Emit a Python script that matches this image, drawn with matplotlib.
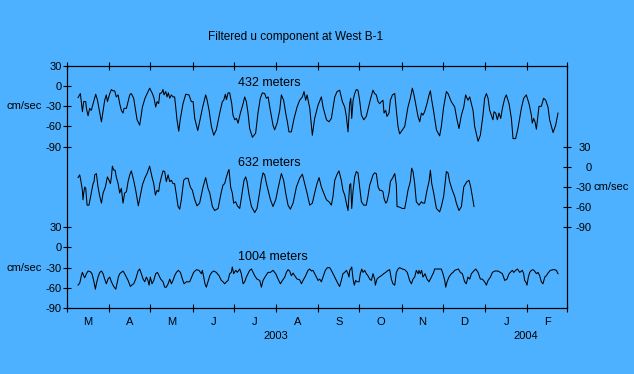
import numpy as np
import matplotlib
matplotlib.use('Agg')
import matplotlib.pyplot as plt
import matplotlib.dates as mdates
import matplotlib.transforms as mtransforms

plt.rcParams['font.family'] = ['Liberation Sans', 'DejaVu Sans']

BG = '#4DB1FF'
start = np.datetime64('2003-03-01')

# ---------------------------------------------------------------------------
# data: days since 1 Mar 2003, filtered u velocity (cm/sec)
days_432 = [8.1, 9.8, 11.3, 12.2, 13.7, 14.2, 15.4, 16.6, 17.8, 21.0,
            22.2, 25.2, 27.6, 28.8, 29.6, 31.3, 32.5, 33.7, 34.9, 36.1,
            37.4, 38.6, 39.8, 41.0, 41.8, 43.5, 45.9, 47.1, 48.8, 51.3,
            53.2, 55.2, 57.1, 60.5, 62.5, 63.7, 64.9, 65.9, 67.1, 67.9,
            69.3, 70.3, 71.0, 72.3, 73.2, 74.2, 75.2, 76.4, 77.6, 78.8,
            79.6, 80.5, 81.8, 83.0, 84.9, 86.9, 89.3, 91.0, 92.3, 93.5,
            95.7, 97.1, 99.1, 101.5, 102.5, 104.0, 105.7, 107.4, 109.3, 111.8,
            113.7, 114.7, 115.9, 116.7, 117.9, 119.1, 120.6, 121.5, 122.8, 124.0,
            125.2, 126.9, 128.9, 130.1, 131.3, 132.5, 133.7, 135.7, 138.1, 139.8,
            141.5, 143.0, 144.7, 145.9, 147.2, 148.4, 150.8, 152.0, 153.8, 155.7,
            156.9, 158.6, 160.1, 161.3, 162.5, 164.2, 166.2, 168.4, 170.3, 172.3,
            173.5, 174.7, 175.7, 176.7, 177.7, 178.9, 179.6, 181.3, 183.8, 186.2,
            187.4, 188.6, 189.9, 191.8, 193.5, 196.0, 197.7, 199.6,
            201.6, 203.3, 204.5, 205.7, 206.9, 207.7, 208.4, 209.4, 210.6, 211.8,
            213.0, 214.2, 215.5, 217.2, 219.1, 221.1, 222.3, 224.0, 225.2, 226.4,
            227.7, 228.9, 230.1, 231.3, 232.1, 233.3, 234.2, 235.7, 236.7, 238.2,
            239.9, 241.1, 242.3, 243.5, 245.5, 247.2, 249.6, 251.3, 252.8, 253.8,
            255.2, 256.9, 258.2, 259.4, 260.6, 261.8, 263.5, 265.0, 266.0, 267.0,
            268.4, 270.4, 272.8, 274.0, 275.7, 277.7, 278.9, 281.3, 283.8, 285.5,
            286.9, 288.7, 290.4, 291.8, 293.5, 294.8, 296.0, 297.2, 298.4, 300.9,
            302.6, 304.5, 305.7, 307.0, 308.2, 309.4, 311.8, 312.6, 313.8, 315.0,
            316.2, 317.5, 318.7, 320.4, 321.6, 323.6, 325.3, 326.5, 328.4, 330.1,
            332.6, 334.3, 336.2, 338.2, 339.9, 340.6, 341.6, 342.6, 343.6, 344.8,
            345.5, 347.2, 348.9, 350.4, 352.1, 353.3, 355.8, 357.7, 359.4]
u_432 = [-17, -11, -38, -23, -23, -33, -44, -33, -36, -12,
         -20, -53, -21, -13, -23, -11, -5, -7, -7, -16,
         -13, -26, -36, -40, -33, -33, -13, -11, -18, -50,
         -58, -31, -18, -3, -11, -18, -31, -23, -26, -11,
         -10, -5, -13, -8, -16, -10, -18, -13, -16, -16,
         -31, -50, -67, -48, -26, -12, -13, -23, -23, -48,
         -66, -53, -33, -13, -20, -36, -60, -73, -65, -40,
         -23, -21, -12, -20, -10, -10, -26, -43, -50, -48,
         -55, -40, -26, -16, -23, -40, -63, -76, -70, -40,
         -18, -10, -11, -18, -16, -31, -58, -65, -55, -36,
         -13, -21, -40, -53, -68, -68, -48, -31, -21, -16,
         -8, -21, -13, -23, -33, -58, -73, -48, -28, -16,
         -31, -40, -50, -53, -48, -16, -8, -6,
         -23, -31, -45, -68, -26, -18, -48, -21, -11, -5,
         -6, -21, -43, -50, -45, -28, -18, -6, -11, -13,
         -23, -26, -23, -21, -40, -36, -45, -40, -21, -13,
         -11, -36, -60, -71, -65, -60, -31, -18, -3, -11,
         -26, -45, -53, -40, -43, -38, -26, -13, -7, -21,
         -38, -65, -74, -60, -31, -8, -11, -23, -31, -50,
         -63, -43, -31, -13, -21, -16, -26, -36, -60, -82,
         -73, -43, -18, -11, -18, -36, -50, -38, -40, -50,
         -40, -48, -33, -18, -13, -26, -48, -78, -78, -63,
         -33, -18, -13, -26, -43, -55, -48, -53, -64, -43,
         -30, -30, -18, -21, -31, -50, -69, -58, -40]

days_632 = [8.1, 9.3, 10.0, 11.3, 11.7, 12.2, 13.0, 13.7, 14.7, 16.1,
            17.8, 19.1, 19.8, 20.3, 21.5, 22.7, 24.0, 25.2, 26.4, 28.1,
            29.6, 30.8, 31.8, 32.5, 33.2, 34.2, 35.2, 36.1, 37.4, 38.6,
            39.8, 41.0, 42.2, 43.5, 44.7, 45.9, 47.1, 48.8, 50.3, 52.2,
            54.0, 55.2, 56.9, 58.6, 60.5, 62.2, 63.5, 64.7, 65.9, 67.1,
            67.9, 69.1, 70.3, 71.5, 72.7, 74.0, 75.2, 76.4, 77.6, 78.8,
            80.1, 81.3, 82.5, 83.7, 85.4, 86.9, 88.6, 90.3, 91.8, 93.5,
            95.2, 97.1, 99.6, 101.5, 103.2, 104.5, 106.4, 108.1, 110.6, 113.0,
            114.2, 115.4, 116.7, 117.9, 118.6, 119.8, 121.0, 122.0, 123.5, 124.7,
            126.4, 127.6, 129.6, 130.8, 131.8, 133.3, 135.0, 137.4, 139.1, 141.1,
            142.3, 143.5, 144.7, 146.0, 147.2, 148.9, 150.8, 152.8, 154.5, 156.9,
            158.6, 160.1, 161.8, 163.5, 165.5, 167.9, 170.3, 172.3, 174.0, 175.7,
            177.7, 179.6, 181.3, 183.0, 184.5, 186.2, 187.9, 189.9, 191.8, 193.5,
            194.7, 196.0, 197.7, 199.1,
            200.8, 202.0, 203.3, 204.5, 205.7, 206.9, 207.7, 208.4, 209.4, 210.6,
            211.8, 213.0, 214.2, 215.5, 217.2, 219.1, 220.3, 221.6, 222.8, 224.0,
            225.2, 226.4, 227.7, 228.9, 230.1, 231.3, 232.1, 233.3, 234.2, 235.7,
            236.7, 238.2, 239.9, 241.1, 241.6, 243.5, 245.5, 247.2, 248.4, 249.6,
            251.3, 252.3, 253.3, 254.5, 255.7, 257.7, 259.4, 260.6, 261.8, 263.5,
            265.0, 266.0, 267.0, 268.4, 270.4, 272.8, 274.0, 275.7, 277.7, 278.9,
            280.1, 282.1, 283.8, 285.0, 286.9, 288.7, 290.4, 291.8, 292.8, 294.3,
            295.5, 296.7, 297.9]
u_632 = [-16, -12, -19, -35, -49, -39, -30, -32, -57, -57,
         -39, -25, -22, -12, -10, -30, -44, -54, -39, -30,
         -15, -20, -25, -15, 1, -5, -5, -15, -25, -39,
         -32, -54, -39, -37, -22, -12, -6, -20, -35, -58,
         -39, -27, -17, -10, 1, -15, -25, -42, -35, -37,
         -25, -15, -6, -7, -22, -12, -22, -20, -25, -25,
         -42, -59, -63, -49, -20, -17, -17, -30, -35, -49,
         -58, -54, -30, -16, -32, -39, -59, -65, -62, -37,
         -27, -25, -15, -7, -4, -30, -39, -54, -52, -58,
         -62, -47, -20, -15, -22, -42, -59, -68, -62, -37,
         -20, -9, -12, -25, -35, -49, -59, -49, -32, -10,
         -20, -39, -57, -63, -54, -30, -17, -11, -25, -39,
         -57, -54, -39, -25, -16, -30, -39, -49, -52, -57,
         -44, -20, -11, -6,
         -20, -35, -42, -54, -65, -27, -25, -62, -35, -15,
         -7, -9, -30, -52, -57, -57, -44, -27, -20, -12,
         -9, -10, -30, -35, -35, -37, -47, -54, -52, -39,
         -22, -17, -10, -27, -59, -60, -62, -62, -49, -35,
         -22, -2, -7, -25, -52, -57, -52, -54, -54, -35,
         -22, -5, -25, -39, -62, -67, -59, -44, -7, -9,
         -22, -35, -44, -54, -65, -59, -30, -25, -22, -20,
         -30, -44, -59]

days_1004 = [8.1, 9.3, 9.8, 10.5, 11.3, 12.2, 13.0, 14.2, 15.4, 17.1,
             18.3, 19.5, 20.8, 21.5, 22.7, 24.0, 25.2, 26.4, 27.6, 28.8,
             30.0, 31.3, 32.5, 34.2, 35.7, 36.6, 37.6, 38.6, 39.8, 41.0,
             42.2, 43.5, 44.7, 46.4, 47.9, 48.8, 50.3, 52.0, 53.2, 54.4,
             55.7, 56.9, 58.1, 59.3, 60.1, 61.0, 62.2, 63.5, 64.9, 66.2,
             67.4, 68.6, 70.3, 71.5, 72.7, 74.0, 75.2, 76.4, 77.6, 78.8,
             80.1, 81.5, 83.0, 84.5, 85.7, 87.4, 89.8, 91.3, 92.7, 94.7,
             96.6, 98.4, 99.1, 100.1, 101.0, 102.0, 103.2, 104.5, 105.9, 107.4,
             109.3, 111.3, 113.0, 114.2, 115.4, 116.7, 117.9, 119.1, 120.3, 121.0,
             122.0, 123.5, 124.7, 126.4, 127.6, 128.9, 130.1, 131.3, 132.5, 133.7,
             135.0, 136.2, 137.4, 139.1, 141.1, 142.3, 143.5, 145.5, 147.2, 148.9,
             150.8, 152.8, 154.5, 156.2, 157.7, 159.4, 160.6, 161.8, 163.0, 164.2,
             165.5, 166.7, 168.4, 170.3, 171.6, 172.8, 174.7, 176.4, 177.7, 178.9,
             180.1, 181.3, 182.5, 183.8, 185.0, 186.2, 187.4, 189.1, 190.6, 192.3,
             193.5, 194.7, 196.7, 198.4, 199.6,
             200.8, 202.0, 203.3, 204.5, 205.7, 206.4, 206.9, 207.7, 208.4, 209.4,
             210.3, 211.3, 212.3, 213.8, 214.7, 215.7, 216.7, 217.9, 219.1, 220.3,
             221.6, 222.8, 224.0, 225.2, 225.7, 226.9, 228.4, 230.1, 231.8, 233.3,
             235.0, 236.2, 237.4, 238.6, 239.9, 241.1, 242.3, 243.5, 245.5, 247.2,
             249.1, 250.8, 252.1, 253.3, 254.5, 255.7, 257.0, 257.7, 258.6, 259.6,
             260.6, 262.1, 263.5, 265.0, 266.7, 268.4, 269.1, 271.6, 274.0, 275.2,
             276.5, 277.2, 278.2, 279.6, 281.3, 282.6, 283.8, 285.0, 286.5, 287.9,
             289.4, 291.1, 292.3, 293.5, 294.8, 296.0, 297.7, 299.2, 300.9, 302.6,
             304.0, 305.7, 307.0, 308.2, 309.9, 311.4, 313.1, 315.5, 317.2, 318.7,
             320.4, 322.1, 323.6, 324.5, 326.0, 327.0, 328.4, 329.7, 331.4, 333.3,
             334.3, 335.0, 335.8, 336.7, 337.7, 338.7, 339.9, 341.1, 342.3, 343.6,
             344.8, 346.0, 347.2, 348.4, 349.7, 350.9, 352.1, 353.8, 355.8, 357.0,
             358.2, 359.4]
u_1004 = [-56, -53, -49, -42, -37, -42, -45, -39, -35, -36,
          -39, -49, -62, -54, -44, -37, -35, -39, -47, -54,
          -47, -44, -51, -58, -62, -54, -44, -39, -37, -35,
          -39, -44, -49, -58, -55, -54, -47, -35, -32, -39,
          -47, -51, -44, -49, -56, -44, -54, -49, -39, -37,
          -42, -47, -51, -59, -59, -54, -47, -54, -49, -42,
          -37, -34, -37, -47, -54, -51, -51, -44, -37, -33,
          -34, -39, -34, -44, -54, -59, -51, -42, -37, -35,
          -37, -42, -49, -51, -54, -51, -49, -39, -37, -29,
          -39, -34, -37, -32, -39, -54, -51, -44, -39, -34,
          -32, -37, -42, -47, -49, -59, -49, -42, -37, -37,
          -34, -39, -47, -54, -49, -44, -37, -33, -35, -42,
          -38, -42, -47, -48, -54, -49, -42, -34, -32, -35,
          -34, -39, -44, -49, -47, -51, -44, -34, -30, -30,
          -34, -39, -47, -54, -58,
          -49, -39, -37, -34, -39, -44, -34, -32, -29, -47,
          -56, -49, -51, -51, -39, -32, -37, -34, -39, -42,
          -47, -49, -39, -47, -56, -47, -44, -42, -39, -37,
          -34, -33, -47, -54, -56, -37, -32, -30, -32, -33,
          -37, -49, -54, -47, -44, -34, -39, -34, -39, -34,
          -44, -39, -47, -51, -44, -37, -32, -32, -32, -39,
          -49, -59, -51, -44, -39, -37, -34, -33, -32, -37,
          -39, -51, -54, -44, -47, -39, -35, -32, -37, -47,
          -47, -51, -56, -49, -44, -37, -35, -35, -37, -39,
          -49, -47, -39, -37, -34, -37, -34, -32, -37, -34,
          -39, -49, -51, -56, -44, -37, -34, -33, -35, -39,
          -37, -42, -51, -54, -44, -42, -38, -34, -33, -33,
          -34, -39]

series_names = ['432 meters', '632 meters', '1004 meters']
month_labels = ['M', 'A', 'M', 'J', 'J', 'A', 'S', 'O', 'N', 'D', 'J', 'F']
year_labels = ['2003', '2004']
year_bounds = ['2003-03-01', '2004-01-01', '2004-03-01']
tick_values = [30, 0, -30, -60, -90]

# each depth gets its own band on one shared y scale
offsets = [0, -120, -240]


def to_num(days):
    t = start + np.round(np.asarray(days) * 24).astype('timedelta64[h]')
    return mdates.date2num(t)


fig = plt.figure(figsize=(6.34, 3.74), dpi=100, facecolor=BG)
ax = fig.add_axes([67 / 634, 66 / 374, 500 / 634, 242 / 374])
ax.set_facecolor(BG)

for d, u, off in zip([days_432, days_632, days_1004], [u_432, u_632, u_1004], offsets):
    ax.plot(to_num(d), np.asarray(u) + off, color='black', lw=0.75)

month_starts = np.arange('2003-03', '2004-04', dtype='datetime64[M]').astype('datetime64[D]')
ms_num = mdates.date2num(month_starts)
ax.set_xlim(ms_num[0], ms_num[-1])
ax.set_ylim(-330, 30)

ax.set_xticks(ms_num)
ax.set_xticklabels([])
ax.set_xticks((ms_num[:-1] + ms_num[1:]) / 2, minor=True)
ax.set_xticklabels(month_labels, minor=True)
ax.tick_params(axis='x', which='major', direction='inout', length=6, width=0.8,
               top=True, bottom=True)
ax.tick_params(axis='x', which='minor', length=0, pad=6.5, labelsize=8)

# left axis: top band (432 m) and bottom band (1004 m)
left_pos = [v + offsets[0] for v in tick_values] + [v + offsets[2] for v in tick_values]
ax.set_yticks(left_pos)
ax.set_yticklabels([str(v) for v in tick_values] * 2)
ax.tick_params(axis='y', direction='inout', length=6, width=0.8, pad=1, labelsize=8)

# right axis: middle band (632 m)
ax2 = ax.twinx()
ax2.set_ylim(ax.get_ylim())
ax2.set_yticks([v + offsets[1] for v in tick_values])
ax2.set_yticklabels([str(v) for v in tick_values])
ax2.tick_params(axis='y', direction='inout', length=6, width=0.8, pad=14.5, labelsize=8)
for lab in ax2.get_yticklabels():
    lab.set_horizontalalignment('right')

for a in (ax, ax2):
    for sp in a.spines.values():
        sp.set_linewidth(0.8)
        sp.set_color('black')

ax_x = mtransforms.blended_transform_factory(ax.transAxes, ax.transData)
ax.text(-0.051, -30 + offsets[0], 'cm/sec', transform=ax_x, ha='right', va='center', fontsize=8)
ax.text(-0.051, -30 + offsets[2], 'cm/sec', transform=ax_x, ha='right', va='center', fontsize=8)
ax.text(1.053, -30 + offsets[1], 'cm/sec', transform=ax_x, ha='left', va='center', fontsize=8)

# depth labels
label_x = to_num(125)
ax.text(label_x, 5 + offsets[0], series_names[0], fontsize=9, va='center')
ax.text(label_x, 6 + offsets[1], series_names[1], fontsize=9, va='center')
ax.text(label_x, -14 + offsets[2], series_names[2], fontsize=9, va='center')

# year labels centred under their months
yb = mdates.date2num(np.array(year_bounds, dtype='datetime64[D]'))
x_ax = mtransforms.blended_transform_factory(ax.transData, ax.transAxes)
for i, yl in enumerate(year_labels):
    ax.text((yb[i] + yb[i + 1]) / 2, -0.116, yl, transform=x_ax,
            ha='center', va='center', fontsize=8)

fig.text(296 / 634, 1 - 37 / 374, 'Filtered u component at West B-1',
         ha='center', va='center', fontsize=8.5)

fig.savefig('out.png', dpi=100, facecolor=BG)
